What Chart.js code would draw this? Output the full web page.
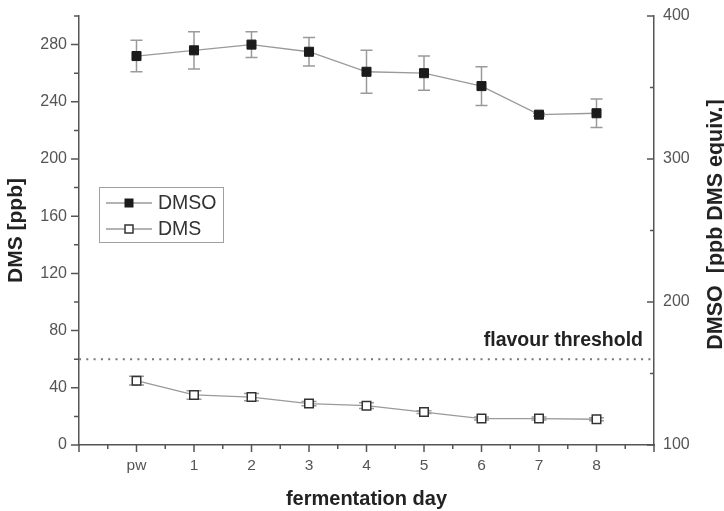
<!DOCTYPE html>
<html>
<head>
<title>DMS and DMSO during fermentation</title>
<script src="https://cdn.jsdelivr.net/npm/chart.js"></script>
<style>
  body { margin: 0; background: #fff; }
</style>
</head>
<body>
<canvas id="dmsChart" width="724" height="511"></canvas>
<script>
// data
var dayLabels = ['pw', '1', '2', '3', '4', '5', '6', '7', '8'];
var dmsoValues = [372, 376, 380, 375, 361, 360, 351, 331, 332]; // ppb DMS equiv. (right axis)
var dmsoErrors = [11, 13, 9, 10, 15, 12, 13.5, 1, 10];
var dmsValues = [45, 35, 33.5, 29, 27.5, 23, 18.5, 18.5, 18]; // ppb (left axis)
var dmsErrors = [3, 3, 2.5, 1.5, 2, 1, 1, 1, 1];
var leftTicks = [0, 40, 80, 120, 160, 200, 240, 280];
var rightTicks = [100, 200, 300, 400];
var flavourThreshold = 60;

var FONT = "'Liberation Sans', Arial, sans-serif";
var AXIS = '#555';
Chart.defaults.font.family = FONT;

function toPoints(values) {
  return values.map(function (v, i) { return { x: i, y: v }; });
}

// keep the vertical axes from pushing the plot area down
function noEdgePadding(s) {
  s.paddingTop = 0;
  s.paddingBottom = 0;
}

// error bars, drawn under the markers
var errorBars = {
  id: 'errorBars',
  beforeDatasetsDraw: function (chart) {
    var ctx = chart.ctx;
    chart.data.datasets.forEach(function (ds, di) {
      if (!ds.errors) return;
      var meta = chart.getDatasetMeta(di);
      var scale = chart.scales[ds.yAxisID];
      ctx.save();
      ctx.strokeStyle = '#9a9a9a';
      ctx.lineWidth = 1.5;
      meta.data.forEach(function (pt, i) {
        var v = ds.data[i].y, e = ds.errors[i];
        var top = scale.getPixelForValue(v + e);
        var bot = scale.getPixelForValue(v - e);
        var half = ds.capWidth / 2;
        ctx.beginPath();
        ctx.moveTo(pt.x, top); ctx.lineTo(pt.x, bot);
        ctx.moveTo(pt.x - half, top); ctx.lineTo(pt.x + half, top);
        ctx.moveTo(pt.x - half, bot); ctx.lineTo(pt.x + half, bot);
        ctx.stroke();
      });
      ctx.restore();
    });
  }
};

// minor/major tick marks, legend box, threshold label, right axis title
var decorations = {
  id: 'decorations',
  afterDraw: function (chart) {
    var ctx = chart.ctx;
    var a = chart.chartArea;
    var x = chart.scales.x, y = chart.scales.y, y2 = chart.scales.y2;
    var v, p, len;

    ctx.save();
    ctx.strokeStyle = AXIS;
    ctx.lineWidth = 1.5;
    ctx.beginPath();
    for (v = -1; v <= 9; v += 0.5) {
      p = x.getPixelForValue(v);
      len = (v % 1 === 0) ? 7 : 4;
      ctx.moveTo(p, a.bottom); ctx.lineTo(p, a.bottom + len);
    }
    for (v = 0; v <= 300; v += 20) {
      p = y.getPixelForValue(v);
      len = (v % 40 === 0) ? 8 : 5;
      ctx.moveTo(a.left, p); ctx.lineTo(a.left - len, p);
    }
    for (v = 100; v <= 400; v += 50) {
      p = y2.getPixelForValue(v);
      len = (v % 100 === 0) ? 7 : 4;
      ctx.moveTo(a.right, p); ctx.lineTo(a.right - len, p);
    }
    ctx.stroke();

    // flavour threshold label
    var ty = y.getPixelForValue(flavourThreshold);
    ctx.fillStyle = '#222';
    ctx.font = 'bold 19.5px ' + FONT;
    ctx.textAlign = 'right';
    ctx.textBaseline = 'alphabetic';
    ctx.fillText('flavour threshold', a.right - 11, ty - 13);

    // legend
    var bx = a.left + 20, by = a.top + 171, bw = 124, bh = 55;
    ctx.strokeStyle = '#a0a0a0';
    ctx.lineWidth = 1;
    ctx.strokeRect(bx + 0.5, by + 0.5, bw, bh);
    [0, 1].forEach(function (di, row) {
      var ds = chart.data.datasets[di];
      var ry = by + 16 + row * 26;
      ctx.strokeStyle = ds.borderColor;
      ctx.lineWidth = 1.3;
      ctx.beginPath();
      ctx.moveTo(bx + 7, ry); ctx.lineTo(bx + 53, ry);
      ctx.stroke();
      var s = 8, mx = bx + 30;
      ctx.fillStyle = ds.pointBackgroundColor;
      ctx.fillRect(mx - s / 2, ry - s / 2, s, s);
      ctx.strokeStyle = ds.pointBorderColor;
      ctx.lineWidth = ds.pointBorderWidth;
      ctx.strokeRect(mx - s / 2, ry - s / 2, s, s);
      ctx.fillStyle = '#333';
      ctx.font = '19.5px ' + FONT;
      ctx.textAlign = 'left';
      ctx.textBaseline = 'middle';
      ctx.fillText(ds.label, bx + 59, ry + 1);
    });

    // right axis title reads bottom to top
    ctx.translate(716, (a.top + a.bottom) / 2 - 6);
    ctx.rotate(-Math.PI / 2);
    ctx.fillStyle = '#222';
    ctx.font = 'bold 21.5px ' + FONT;
    ctx.textAlign = 'center';
    ctx.textBaseline = 'middle';
    ctx.fillText('DMSO  [ppb DMS equiv.]', 0, 0);
    ctx.restore();
  }
};

var ctx = document.getElementById('dmsChart').getContext('2d');
var dmsChart = new Chart(ctx, {
  type: 'line',
  data: {
    datasets: [
      {
        label: 'DMSO',
        data: toPoints(dmsoValues),
        errors: dmsoErrors,
        capWidth: 12,
        yAxisID: 'y2',
        borderColor: '#9a9a9a',
        borderWidth: 1.3,
        pointStyle: 'rect',
        pointRadius: 6.4,
        pointBackgroundColor: '#1b1b1b',
        pointBorderColor: '#1b1b1b',
        pointBorderWidth: 1
      },
      {
        label: 'DMS',
        data: toPoints(dmsValues),
        errors: dmsErrors,
        capWidth: 15,
        yAxisID: 'y',
        borderColor: '#9a9a9a',
        borderWidth: 1.3,
        pointStyle: 'rect',
        pointRadius: 6,
        pointBackgroundColor: '#fff',
        pointBorderColor: '#333',
        pointBorderWidth: 1.5
      },
      {
        label: 'flavour threshold',
        data: [{ x: -1, y: flavourThreshold }, { x: 9, y: flavourThreshold }],
        yAxisID: 'y',
        borderColor: '#777',
        borderWidth: 2,
        borderDash: [2, 5.3],
        pointRadius: 0
      }
    ]
  },
  options: {
    responsive: false,
    animation: false,
    layout: { padding: { top: 16, left: 0, right: 0, bottom: 0 } },
    plugins: { legend: { display: false }, tooltip: { enabled: false } },
    scales: {
      x: {
        type: 'linear',
        min: -1,
        max: 9,
        afterBuildTicks: function (s) {
          s.ticks = dayLabels.map(function (d, i) { return { value: i }; });
        },
        afterFit: function (s) { s.height = 66; },
        ticks: {
          padding: 11,
          color: AXIS,
          font: { size: 15.5 },
          maxRotation: 0,
          callback: function (v) { return dayLabels[v]; }
        },
        grid: { display: false, drawTicks: false },
        border: { color: AXIS, width: 1.5 },
        title: {
          display: true,
          text: 'fermentation day',
          color: '#222',
          font: { size: 20, weight: 'bold' },
          padding: { top: 0, bottom: 0 }
        }
      },
      y: {
        position: 'left',
        min: 0,
        max: 300,
        afterBuildTicks: function (s) {
          s.ticks = leftTicks.map(function (v) { return { value: v }; });
        },
        afterFit: function (s) { s.width = 79; noEdgePadding(s); },
        ticks: { padding: 12, color: AXIS, font: { size: 16 } },
        grid: { display: false, drawTicks: false },
        border: { color: AXIS, width: 1.5 },
        title: {
          display: true,
          text: 'DMS [ppb]',
          color: '#222',
          font: { size: 21, weight: 'bold' },
          padding: { top: 4, bottom: 0 }
        }
      },
      y2: {
        position: 'right',
        min: 100,
        max: 400,
        afterBuildTicks: function (s) {
          s.ticks = rightTicks.map(function (v) { return { value: v }; });
        },
        afterFit: function (s) { s.width = 70; noEdgePadding(s); },
        ticks: { padding: 9, color: AXIS, font: { size: 16 } },
        grid: { display: false, drawTicks: false },
        border: { color: AXIS, width: 1.5 }
      }
    }
  },
  plugins: [errorBars, decorations]
});
</script>
</body>
</html>
